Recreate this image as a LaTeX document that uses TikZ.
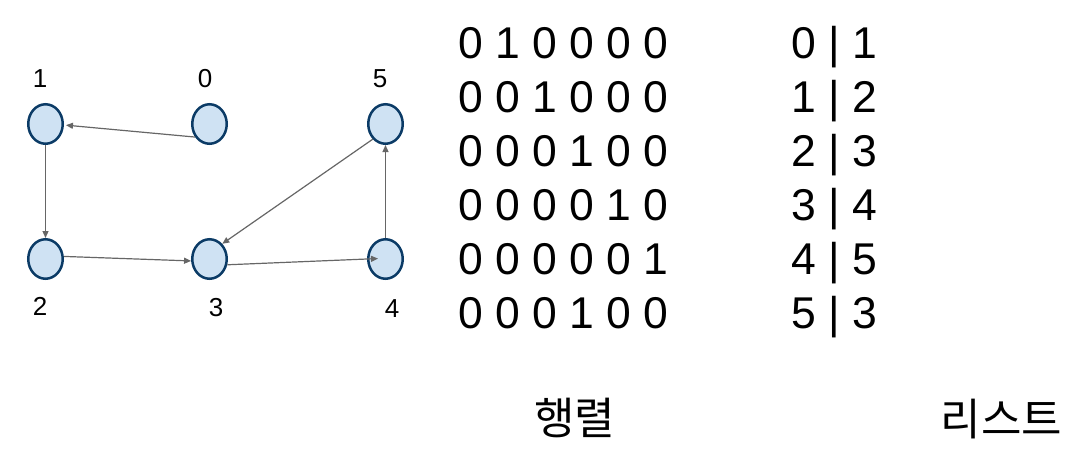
\documentclass[tikz,border=0pt]{standalone}
\usepackage{fontspec}
\setmainfont{Liberation Sans}
\newfontfamily\krfont{Noto Sans CJK KR}
\usetikzlibrary{arrows.meta,shapes.geometric}
\definecolor{nodefill}{HTML}{CFE2F3}
\definecolor{nodeline}{HTML}{0B3B66}
\definecolor{edgecol}{HTML}{666666}
\tikzset{
  vert/.style={ellipse, draw=nodeline, fill=nodefill, line width=2.5pt,
    minimum width=34.5pt, minimum height=39.5pt, inner sep=0pt},
  vlabel/.style={anchor=base, inner sep=0pt, font=\fontsize{26}{30}\selectfont},
  bigtext/.style={inner sep=0pt, font=\fontsize{44.5}{52}\selectfont},
  krtext/.style={anchor=base, inner sep=0pt, font=\krfont\fontsize{44}{52}\selectfont},
  edge/.style={draw=edgecol, line width=1.2pt,
    -{Triangle[length=7pt,width=6pt]}}
}
\begin{document}
\begin{tikzpicture}[x=1pt,y=-1pt]
\useasboundingbox (0,0) rectangle (1091,458);
% vertices
\node[vert] (n0) at (209.5,124) {};
\node[vert] (n1) at (45.5,124) {};
\node[vert] (n5) at (385.5,124) {};
\node[vert] (n2) at (45.5,259) {};
\node[vert] (n3) at (209.5,259) {};
\node[vert] (n4) at (385.5,259) {};
% labels
\node[vlabel] (l1) at (40,87) {1};
\node[vlabel] (l0) at (205,87) {0};
\node[vlabel] (l5) at (380,87) {5};
\node[vlabel] (l2) at (40,315) {2};
\node[vlabel] (l3) at (216,316) {3};
\node[vlabel] (l4) at (392,317) {4};
% edges
\draw[edge, shorten >=2pt] (n0.222) -- (n1.-3);
\draw[edge] (n1.south) -- (n2.north);
\draw[edge] (n2.8) -- (n3.186);
\draw[edge, shorten >=-11pt] (n3.-18) -- (n4.west);
\draw[edge] (n5.230) -- (n3.50);
\draw[edge] (n4.north) -- (n5.south);
% matrix
\node[bigtext, anchor=base west] (m0) at (458,58) {0 1 0 0 0 0};
\node[bigtext, anchor=base west] (m1) at (458,112) {0 0 1 0 0 0};
\node[bigtext, anchor=base west] (m2) at (458,166) {0 0 0 1 0 0};
\node[bigtext, anchor=base west] (m3) at (458,220) {0 0 0 0 1 0};
\node[bigtext, anchor=base west] (m4) at (458,274) {0 0 0 0 0 1};
\node[bigtext, anchor=base west] (m5) at (458,328) {0 0 0 1 0 0};
% list
\node[bigtext, anchor=base] (a0) at (834,58) {0 | 1};
\node[bigtext, anchor=base] (a1) at (834,112) {1 | 2};
\node[bigtext, anchor=base] (a2) at (834,166) {2 | 3};
\node[bigtext, anchor=base] (a3) at (834,220) {3 | 4};
\node[bigtext, anchor=base] (a4) at (834,274) {4 | 5};
\node[bigtext, anchor=base] (a5) at (834,328) {5 | 3};
% captions
\node[krtext] (cm) at (574.5,434) {행렬};
\node[krtext] (cl) at (1001.5,435) {리스트};
\end{tikzpicture}
\end{document}
